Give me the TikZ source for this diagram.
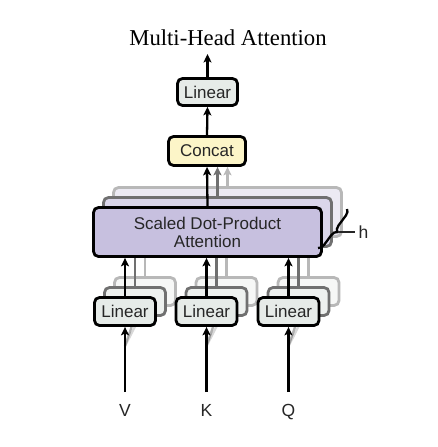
\documentclass[tikz,border=0pt]{standalone}
\usepackage{fontspec}
\setmainfont{Liberation Serif}
\newfontfamily\sansf{Liberation Sans}
\usetikzlibrary{arrows.meta,decorations.pathreplacing}
\definecolor{txt}{HTML}{262626}
\definecolor{linf}{HTML}{E6EBE8}
\definecolor{linfb}{HTML}{EEF1EF}
\definecolor{linfc}{HTML}{F6F7F6}
\definecolor{sdpaf}{HTML}{C7C0DF}
\definecolor{sdpafb}{HTML}{DAD6EA}
\definecolor{sdpafc}{HTML}{ECEAF3}
\definecolor{concatf}{HTML}{FCF5C8}
\definecolor{layb}{HTML}{707070}
\definecolor{layc}{HTML}{B8B8B8}
\begin{document}
\begin{tikzpicture}[x=1pt,y=1pt,
  box/.style={draw, rounded corners=5pt, line width=2.8pt, inner sep=0pt,
    font=\sansf\fontsize{17}{19}\selectfont, text=txt, align=center},
  linbox/.style={box, fill=linf, minimum width=61pt, minimum height=28pt},
  sdpabox/.style={box, fill=sdpaf, minimum width=228pt, minimum height=49pt},
  conn/.style={line width=2.3pt, -{Stealth[length=8.5pt,width=8pt,inset=2pt]}},
  plainln/.style={line width=2.3pt},
  fanln/.style={line width=2.3pt, opacity=0.55},
  lbl/.style={font=\sansf\fontsize{17.5}{19}\selectfont, text=txt, inner sep=0pt, anchor=base},
]
\fill[white] (0,0) rectangle (438,-447);
\useasboundingbox (0,0) rectangle (438,-447);

% title and top part
\node[anchor=base, font=\fontsize{22.7}{25}\selectfont, inner sep=0pt] (title) at (228,-45) {Multi-Head Attention};
\node[linbox, minimum width=60pt, minimum height=27pt] (lintop) at (207.5,-92) {Linear};
\node[box, fill=concatf, minimum width=77pt, minimum height=29pt] (concat) at (207,-151) {Concat};
\coordinate (out) at (207.5,-54);
\draw[conn] (lintop.north) -- (out);
\draw[conn] (concat.north) -- (lintop.south);

% input labels
\node[lbl] (V) at (125,-416) {V};
\node[lbl] (K) at (206.5,-416) {K};
\node[lbl] (Q) at (288.5,-416) {Q};
\coordinate (vin) at (125,-392);
\coordinate (kin) at (206.5,-392);
\coordinate (qin) at (288.5,-392);
\coordinate (vs) at (125,-346);
\coordinate (ks) at (206.5,-346);
\coordinate (qs) at (288.5,-346);

% ---- layer 3 (offset 20) ----
\node[sdpabox, draw=layc, fill=sdpafc] (sdpac) at (227.5,-212) {};
\node[linbox, draw=layc, fill=linfc] (linvc) at (145,-291.5) {};
\node[linbox, draw=layc, fill=linfc] (linkc) at (226.5,-291.5) {};
\node[linbox, draw=layc, fill=linfc] (linqc) at (308.5,-291.5) {};
\begin{scope}[draw=layc, color=layc]
\draw[fanln] (vs) -- (linvc.south);
\draw[fanln] (ks) -- (linkc.south);
\draw[fanln] (qs) -- (linqc.south);
\draw[plainln] (linvc.north) -- (linvc.north |- sdpac.south);
\draw[plainln] (linkc.north) -- (linkc.north |- sdpac.south);
\draw[plainln] (linqc.north) -- (linqc.north |- sdpac.south);
\draw[conn] (sdpac.north) -- (sdpac.north |- concat.south);
\end{scope}

% ---- layer 2 (offset 10) ----
\node[sdpabox, draw=layb, fill=sdpafb] (sdpab) at (217.5,-222) {};
\node[linbox, draw=layb, fill=linfb] (linvb) at (135,-301.5) {};
\node[linbox, draw=layb, fill=linfb] (linkb) at (216.5,-301.5) {};
\node[linbox, draw=layb, fill=linfb] (linqb) at (298.5,-301.5) {};
\begin{scope}[draw=layb, color=layb]
\draw[fanln] (vs) -- (linvb.south);
\draw[fanln] (ks) -- (linkb.south);
\draw[fanln] (qs) -- (linqb.south);
\draw[plainln] (linvb.north) -- (linvb.north |- sdpab.south);
\draw[plainln] (linkb.north) -- (linkb.north |- sdpab.south);
\draw[plainln] (linqb.north) -- (linqb.north |- sdpab.south);
\draw[conn] (sdpab.north) -- (sdpab.north |- concat.south);
\end{scope}

% ---- front layer ----
\node[sdpabox] (sdpa) at (207.5,-232) {Scaled Dot-Product\\[-1pt]Attention};
\node[linbox] (linv) at (125,-311.5) {Linear};
\node[linbox] (link) at (206.5,-311.5) {Linear};
\node[linbox] (linq) at (288.5,-311.5) {Linear};
\draw[conn] (vin) -- (linv.south);
\draw[conn] (kin) -- (link.south);
\draw[conn] (qin) -- (linq.south);
\draw[conn] (linv.north) -- (linv.north |- sdpa.south);
\draw[conn] (link.north) -- (link.north |- sdpa.south);
\draw[conn] (linq.north) -- (linq.north |- sdpa.south);
\draw[conn] (sdpa.north) -- (concat.south);

% brace and h
\coordinate (bt) at (347,-209);
\coordinate (bb) at (318,-248);
\draw[line width=2.3pt, decorate, decoration={brace, amplitude=6pt, aspect=0.5}] (bt) -- (bb);
\coordinate (btip) at (337.5,-232);
\node[lbl] (h) at (363.5,-238) {h};
\draw[line width=1.6pt, color=txt] (btip) -- (355,-232);
\end{tikzpicture}
\end{document}
